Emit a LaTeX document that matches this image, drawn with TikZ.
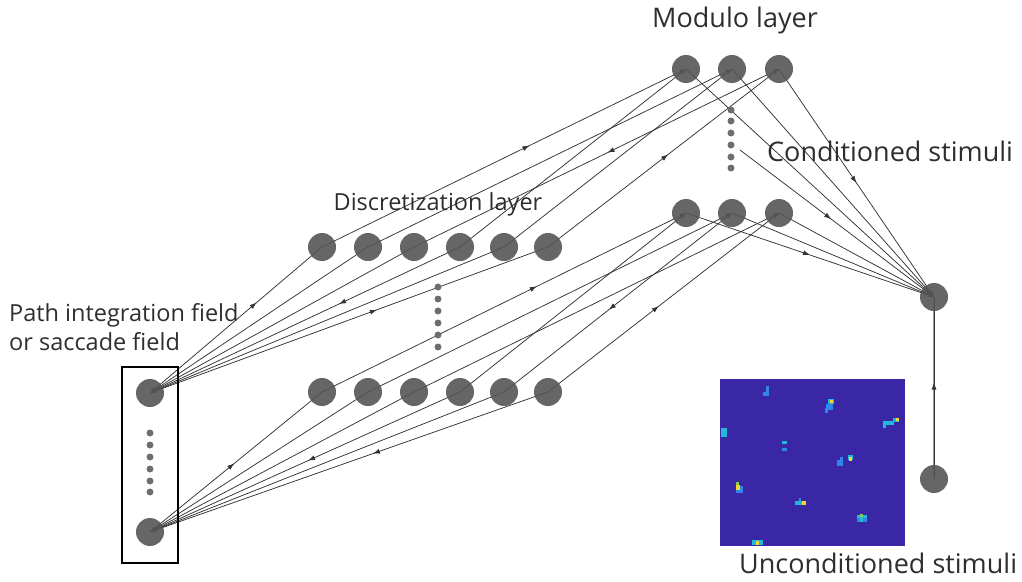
\documentclass[tikz,border=0pt]{standalone}
\usepackage{fontspec}
\setmainfont{Open Sans}
\usetikzlibrary{arrows.meta,decorations.markings}
\pgfdeclarelayer{bg}
\pgfsetlayers{bg,main}
\definecolor{ng}{HTML}{555555}
\definecolor{ln}{HTML}{333333}
\definecolor{tx}{HTML}{2E2E2E}
\definecolor{pb}{HTML}{3A27A6}
\definecolor{pc}{HTML}{22B8D8}
\definecolor{pl}{HTML}{2F86EE}
\definecolor{py}{HTML}{F2D82C}
\definecolor{pg}{HTML}{86CC4E}
\tikzset{
  nd/.style={circle, fill=ng, fill opacity=0.9, minimum size=28pt, inner sep=0pt},
  sdot/.style={circle, fill=ng!85, minimum size=7pt, inner sep=0pt},
  conn/.style={draw=ln, line width=0.75pt},
  tipend/.style={conn, -{Latex[length=6pt,width=4pt]}},
  tipstart/.style={conn, {Latex[length=6pt,width=4pt]}-},
  fwd/.style={postaction={decorate,decoration={markings,mark=at position #1 with {\arrow[ln,line width=0.75pt]{Latex[length=7pt,width=5pt]}}}}},
  bwd/.style={postaction={decorate,decoration={markings,mark=at position #1 with {\arrowreversed[ln,line width=0.75pt]{Latex[length=7pt,width=5pt]}}}}},
  lbl/.style={text=tx, inner sep=0pt}
}
\begin{document}
\begin{tikzpicture}[x=1pt,y=-1pt]
\useasboundingbox (0,0) rectangle (1022,581);

% nodes
\node[nd] (P1) at (150,393) {};
\node[nd] (P2) at (150,532) {};
\foreach \x [count=\i] in {322,368,414,460,504,548} {
  \node[nd] (Dt\i) at (\x,247) {};
  \node[nd] (Db\i) at (\x,392) {};
}
\foreach \x [count=\i] in {686,732,779} {
  \node[nd] (Mt\i) at (\x,69) {};
  \node[nd] (Mb\i) at (\x,213) {};
}
\node[nd] (CS) at (934,297) {};
\node[nd] (US) at (934,479) {};
\coordinate (MD) at (740,150);

% dot columns
\foreach \y [count=\i] in {433,445,457,469,481,492} \node[sdot] (pd\i) at (150,\y) {};
\foreach \y [count=\i] in {287,299,311,323,335,347} \node[sdot] (dd\i) at (438,\y) {};
\foreach \y [count=\i] in {110,121,133,145,157,168} \node[sdot] (md\i) at (731,\y) {};

% frame around input field
\node[draw=black, line width=1.6pt, minimum width=56pt, minimum height=196pt, inner sep=0pt] (box) at (150,465) {};

\begin{pgfonlayer}{bg}
% input -> discretization
\draw[tipstart, fwd=0.62] (P1.center) -- (Dt1.center);
\draw[tipstart] (P1.center) -- (Dt2.center);
\draw[tipstart] (P1.center) -- (Dt3.center);
\draw[tipstart, bwd=0.61] (P1.center) -- (Dt4.center);
\draw[tipstart] (P1.center) -- (Dt5.center);
\draw[tipstart, fwd=0.57] (P1.center) -- (Dt6.center);
\draw[tipstart, fwd=0.49] (P2.center) -- (Db1.center);
\draw[tipstart] (P2.center) -- (Db2.center);
\draw[tipstart] (P2.center) -- (Db3.center);
\draw[tipstart, bwd=0.51] (P2.center) -- (Db4.center);
\draw[tipstart] (P2.center) -- (Db5.center);
\draw[tipstart, bwd=0.56] (P2.center) -- (Db6.center);
% discretization -> modulo
\draw[tipend, fwd=0.57] (Dt1.center) -- (Mt1.center);
\draw[tipend] (Dt2.center) -- (Mt2.center);
\draw[tipend, bwd=0.53] (Dt3.center) -- (Mt3.center);
\draw[tipend] (Dt4.center) -- (Mt1.center);
\draw[tipend] (Dt5.center) -- (Mt2.center);
\draw[tipend, fwd=0.52] (Dt6.center) -- (Mt3.center);
\draw[tipend, fwd=0.59] (Db1.center) -- (Mb1.center);
\draw[tipend] (Db2.center) -- (Mb2.center);
\draw[tipend] (Db3.center) -- (Mb3.center);
\draw[tipend] (Db4.center) -- (Mb1.center);
\draw[tipend, bwd=0.46] (Db5.center) -- (Mb2.center);
\draw[tipend, fwd=0.48] (Db6.center) -- (Mb3.center);
% modulo -> conditioned stimuli
\draw[tipend] (Mt1.center) -- (CS.center);
\draw[tipend] (Mt2.center) -- (CS.center);
\draw[tipend, fwd=0.5] (Mt3.center) -- (CS.center);
\draw[tipend, fwd=0.47] (MD) -- (CS.center);
\draw[tipend, fwd=0.5] (Mb1.center) -- (CS.center);
\draw[tipend] (Mb2.center) -- (CS.center);
\draw[tipend] (Mb3.center) -- (CS.center);
% unconditioned -> conditioned
\draw[draw=black!40, line width=2.2pt] (US.center) -- (CS.center);
\draw[conn, fwd=0.53] (US.center) -- (CS.center);
\end{pgfonlayer}

% stimulus map
\fill[pb] (720,379) rectangle (905,546);
\fill[pl] (766,386) rectangle (769,395); \fill[pl] (763,392) rectangle (769,396);
\fill[pl] (826,404) rectangle (833,410); \fill[pc] (828,399) rectangle (834,404); \fill[py] (830,400) rectangle (833,403); \fill[pl] (825,408) rectangle (828,413);
\fill[pc] (883,421) rectangle (894,425); \fill[pc] (883,421) rectangle (886,428); \fill[pc] (893,418) rectangle (899,422); \fill[py] (896,418) rectangle (899,421);
\fill[pc] (721,428) rectangle (727,437);
\fill[pc] (782,441) rectangle (787,444); \fill[pl] (782,448) rectangle (787,451);
\fill[pl] (837,460) rectangle (843,466); \fill[pl] (840,457) rectangle (843,463); \fill[pc] (848,455) rectangle (853,460); \fill[py] (849,457) rectangle (852,461);
\fill[pl] (736,486) rectangle (743,493); \fill[py] (736,485) rectangle (740,490); \fill[pg] (736,482) rectangle (739,485);
\fill[pc] (795,501) rectangle (806,505); \fill[py] (802,501) rectangle (806,505); \fill[pl] (799,498) rectangle (801,501);
\fill[pc] (857,515) rectangle (867,522); \fill[pl] (857,518) rectangle (860,522); \fill[pl] (863,518) rectangle (867,522); \fill[pg] (860,514) rectangle (863,517);
\fill[pc] (752,540) rectangle (763,545); \fill[py] (756,541) rectangle (759,545);

% labels
\node[lbl, font=\fontsize{27}{32}\selectfont] (tmod) at (735,20) {Modulo layer};
\node[lbl, font=\fontsize{27}{32}\selectfont, anchor=west] (tcs) at (767,151) {Conditioned stimuli};
\node[lbl, font=\fontsize{23.5}{28}\selectfont] (tdis) at (438,204) {Discretization layer};
\node[lbl, font=\fontsize{23.5}{29}\selectfont, anchor=north west, align=left] (tpath) at (9,303) {Path integration field\\or saccade field};
\node[lbl, font=\fontsize{27}{32}\selectfont, anchor=west] (tus) at (739,563) {Unconditioned stimuli};
\end{tikzpicture}
\end{document}
